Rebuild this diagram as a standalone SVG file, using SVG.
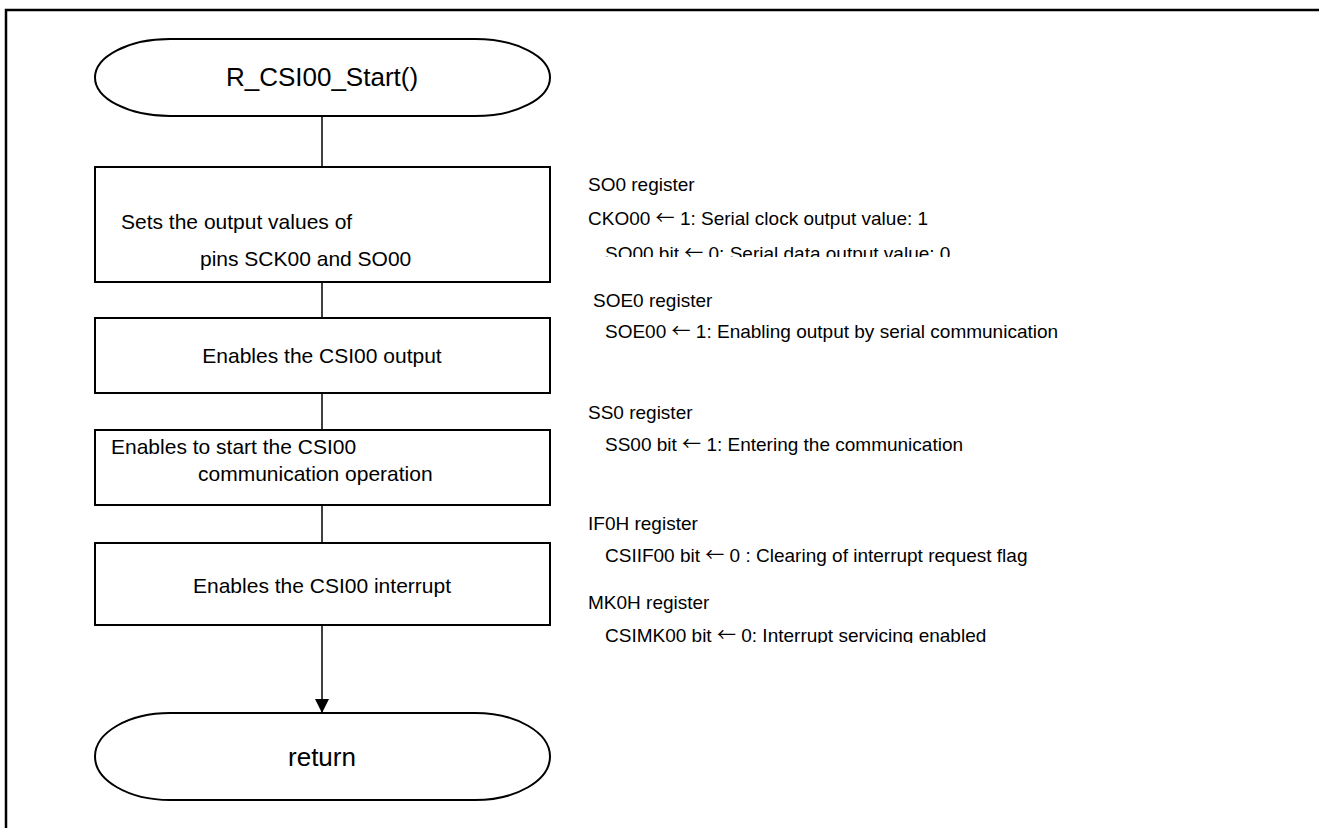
<svg xmlns="http://www.w3.org/2000/svg" width="1319" height="828" viewBox="0 0 1319 828">
<style>
  .shape { fill: #ffffff; stroke: #000000; stroke-width: 2; }
  .line { stroke: #000000; stroke-width: 1.5; fill: none; }
  .t { font-family: "Liberation Sans", Arial, sans-serif; font-size: 21px; fill: #000000; }
  .title { font-family: "Liberation Sans", Arial, sans-serif; font-size: 26px; fill: #000000; }
  .note { font-family: "Liberation Sans", Arial, sans-serif; font-size: 19px; fill: #000000; }
  .arr { font-family: "Noto Sans CJK JP", "DejaVu Sans", sans-serif; }
</style>
<defs>
  <marker id="arrow" viewBox="0 0 14 16" refX="14" refY="8" markerWidth="14" markerHeight="16" markerUnits="userSpaceOnUse" orient="auto">
    <path d="M0,1 L14,8 L0,15 Z" fill="#000000"/>
  </marker>
  <clipPath id="clip1"><rect x="560" y="160" width="600" height="97"/></clipPath>
  <clipPath id="clip2"><rect x="560" y="580" width="600" height="63"/></clipPath>
</defs>
<rect width="1319" height="828" fill="#ffffff"/>
<path d="M6,830 V10 H1321" fill="none" stroke="#000000" stroke-width="2.5"/>

<g id="connectors">
  <line class="line" x1="322" y1="116" x2="322" y2="167"/>
  <line class="line" x1="322" y1="282" x2="322" y2="318"/>
  <line class="line" x1="322" y1="393" x2="322" y2="430"/>
  <line class="line" x1="322" y1="505" x2="322" y2="543"/>
  <line class="line" x1="322" y1="625" x2="322" y2="713" marker-end="url(#arrow)"/>
</g>

<g id="start">
  <rect class="shape" x="95" y="39" width="455" height="77" rx="75" ry="38.5"/>
  <text class="title" x="322" y="86" text-anchor="middle">R_CSI00_Start()</text>
</g>

<g id="set-output">
  <rect class="shape" x="95" y="167" width="455" height="115"/>
  <text class="t" x="121" y="228.5">Sets the output values of</text>
  <text class="t" x="200" y="265.5">pins SCK00 and SO00</text>
</g>

<g id="enable-output">
  <rect class="shape" x="95" y="318" width="455" height="75"/>
  <text class="t" x="322" y="362.5" text-anchor="middle">Enables the CSI00 output</text>
</g>

<g id="start-comm">
  <rect class="shape" x="95" y="430" width="455" height="75"/>
  <text class="t" x="111" y="453.5">Enables to start the CSI00</text>
  <text class="t" x="198" y="480.5">communication operation</text>
</g>

<g id="enable-int">
  <rect class="shape" x="95" y="543" width="455" height="82"/>
  <text class="t" x="322" y="592.5" text-anchor="middle">Enables the CSI00 interrupt</text>
</g>

<g id="return">
  <rect class="shape" x="95" y="713" width="455" height="87" rx="75" ry="43.5"/>
  <text class="title" x="322" y="766" text-anchor="middle">return</text>
</g>

<g id="notes">
  <g clip-path="url(#clip1)">
    <text class="note" x="588" y="191">SO0 register</text>
    <text class="note" x="588" y="225">CKO00 <tspan class="arr">←</tspan> 1: Serial clock output value: 1</text>
    <text class="note" x="605" y="260">SO00 bit <tspan class="arr">←</tspan> 0: Serial data output value: 0</text>
  </g>
  <text class="note" x="593" y="307">SOE0 register</text>
  <text class="note" x="605" y="338">SOE00 <tspan class="arr">←</tspan> 1: Enabling output by serial communication</text>
  <text class="note" x="588" y="419">SS0 register</text>
  <text class="note" x="605" y="451">SS00 bit <tspan class="arr">←</tspan> 1: Entering the communication</text>
  <text class="note" x="588" y="530">IF0H register</text>
  <text class="note" x="605" y="562">CSIIF00 bit <tspan class="arr">←</tspan> 0 : Clearing of interrupt request flag</text>
  <g clip-path="url(#clip2)">
    <text class="note" x="588" y="609">MK0H register</text>
    <text class="note" x="605" y="642">CSIMK00 bit <tspan class="arr">←</tspan> 0: Interrupt servicing enabled</text>
  </g>
</g>
</svg>
